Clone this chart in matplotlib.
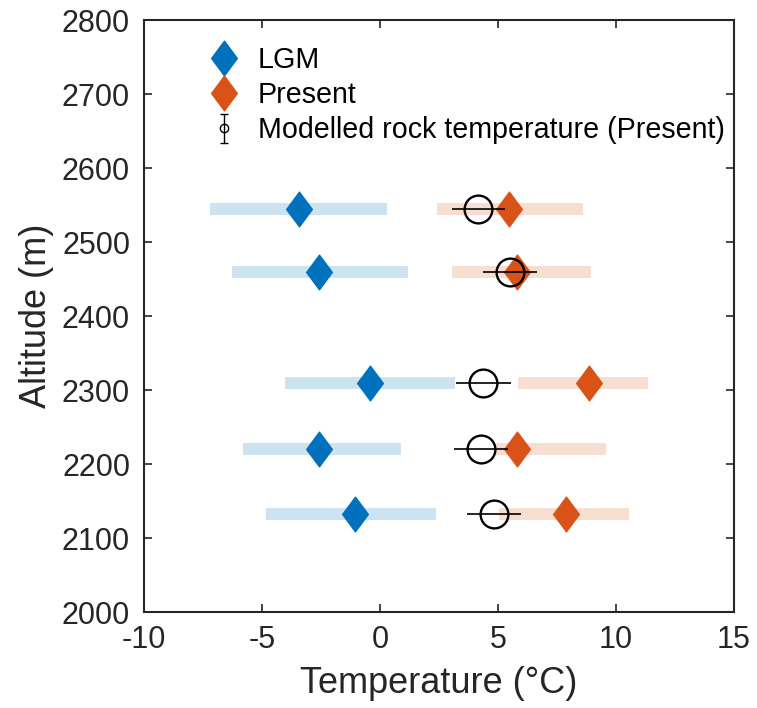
import numpy as np
import matplotlib
matplotlib.use("Agg")
import matplotlib.pyplot as plt
from matplotlib.path import Path

plt.rcParams['font.family'] = ['Liberation Sans', 'DejaVu Sans']

# ---- data ----
altitude = [2545, 2460, 2310, 2220, 2133]
lgm_temp = [-3.44, -2.60, -0.44, -2.60, -1.07]
lgm_low = [-7.20, -6.27, -4.03, -5.81, -4.83]
lgm_high = [0.30, 1.19, 3.18, 0.89, 2.37]
present_temp = [5.45, 5.79, 8.86, 5.82, 7.87]
present_low = [2.42, 3.05, 5.85, 4.85, 5.04]
present_high = [8.60, 8.94, 11.36, 9.58, 10.55]
model_temp = [4.17, 5.51, 4.38, 4.27, 4.84]
model_err = [1.13, 1.14, 1.15, 1.14, 1.15]

xticks = [-10, -5, 0, 5, 10, 15]
yticks = [2000, 2100, 2200, 2300, 2400, 2500, 2600, 2700, 2800]

blue = '#0072BD'
orange = '#D95319'
blue_l = '#CCE3F2'
orange_l = '#F8DDD1'
axcol = '#262626'

diamond = Path([(0, 1), (0.74, 0), (0, -1), (-0.74, 0), (0, 1)],
               [Path.MOVETO, Path.LINETO, Path.LINETO, Path.LINETO, Path.CLOSEPOLY])

fig = plt.figure(figsize=(7.57, 7.08), dpi=100)
ax = fig.add_axes([144/757, 1-612/708, 590/757, 592/708])

ax.hlines(altitude, lgm_low, lgm_high, colors=blue_l, lw=8.6, zorder=1)
ax.hlines(altitude, present_low, present_high, colors=orange_l, lw=8.6, zorder=1)

h1, = ax.plot(lgm_temp, altitude, ls='none', marker=diamond, ms=25,
              mfc=blue, mec=blue, zorder=3, label='LGM')
h2, = ax.plot(present_temp, altitude, ls='none', marker=diamond, ms=25,
              mfc=orange, mec=orange, zorder=3, label='Present')
ax.errorbar(model_temp, altitude, xerr=model_err, fmt='o', ms=20, mfc='none',
            mec='k', mew=1.7, ecolor='k', elinewidth=1.2, capsize=0, zorder=4)
# legend proxy for the modelled temperature
h3 = ax.errorbar([np.nan], [np.nan], yerr=[1], fmt='o', ms=6, mfc='none',
                 mec='k', mew=1.0, ecolor='k', elinewidth=1.0, capsize=3,
                 label='Modelled rock temperature (Present)')

ax.set_xlim(-10, 15)
ax.set_ylim(2000, 2800)
ax.set_xticks(xticks)
ax.set_yticks(yticks)
ax.set_xticklabels([str(v) for v in xticks])
ax.tick_params(direction='in', length=6, width=1.2, colors=axcol,
               labelsize=22, top=True, right=True)
ax.tick_params(axis='y', pad=10)
ax.tick_params(axis='x', pad=9)
for s in ax.spines.values():
    s.set_color(axcol)
    s.set_linewidth(1.5)
ax.set_xlabel('Temperature (°C)', fontsize=26, color=axcol, labelpad=8)
ax.set_ylabel('Altitude (m)', fontsize=26, color=axcol, labelpad=6)

leg = ax.legend(handles=[h1, h2, h3], loc='upper left',
                bbox_to_anchor=(207/757, 1-46/708), bbox_transform=fig.transFigure,
                frameon=False, fontsize=20.6, handlelength=1.2, handletextpad=0.58,
                labelspacing=0.25, borderpad=0, borderaxespad=0)

fig.savefig('out.png', dpi=100)
